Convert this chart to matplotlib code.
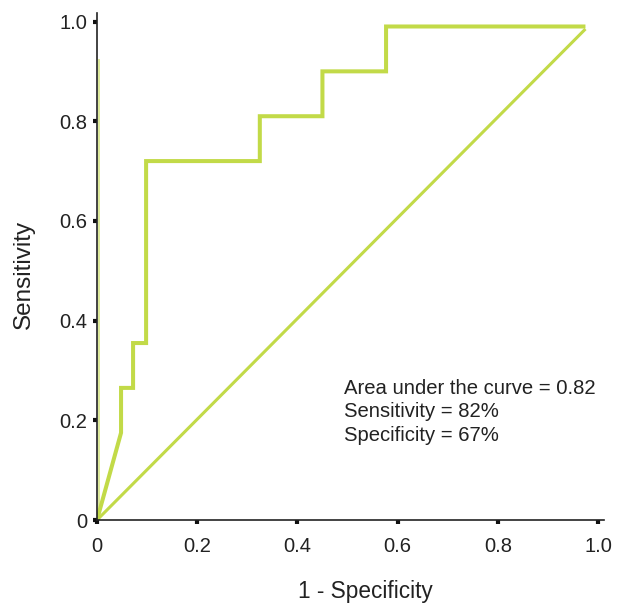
import matplotlib
matplotlib.use("Agg")
import matplotlib.pyplot as plt

plt.rcParams['font.family'] = ['Liberation Sans', 'DejaVu Sans']

# ROC curve (1 - specificity, sensitivity)
roc_fpr = [0.0, 0.048, 0.048, 0.072, 0.072, 0.098, 0.098, 0.325, 0.325, 0.45, 0.45, 0.577, 0.577, 0.975]
roc_tpr = [0.0, 0.175, 0.265, 0.265, 0.355, 0.355, 0.72, 0.72, 0.81, 0.81, 0.90, 0.90, 0.99, 0.99]
# reference (chance) line
ref_x = [0.0, 0.975]
ref_y = [0.0, 0.985]
# thin line along the y axis
edge_x = [0.003, 0.003]
edge_y = [0.0, 0.925]

xticks = [0, 0.2, 0.4, 0.6, 0.8, 1.0]
xticklabels = ['0', '0.2', '0.4', '0.6', '0.8', '1.0']
yticks = [0, 0.2, 0.4, 0.6, 0.8, 1.0]
yticklabels = ['0', '0.2', '0.4', '0.6', '0.8', '1.0']

annot = "Area under the curve = 0.82\nSensitivity = 82%\nSpecificity = 67%"

color = '#c2da48'

fig = plt.figure(figsize=(6.21, 6.06), dpi=100)
ax = fig.add_axes([0.1562, 0.1419, 0.8164, 0.8366])

ax.plot(edge_x, edge_y, color='#dde99a', lw=1.4, solid_capstyle='butt', clip_on=False)
ax.plot(ref_x, ref_y, color=color, lw=2.2, solid_capstyle='butt')
ax.plot(roc_fpr, roc_tpr, color=color, lw=2.9, solid_joinstyle='miter', solid_capstyle='butt')

ax.set_xlim(0, 1.012)
ax.set_ylim(0, 1.017)
ax.set_xticks(xticks)
ax.set_xticklabels(xticklabels)
ax.set_yticks(yticks)
ax.set_yticklabels(yticklabels)

for s in ['top', 'right']:
    ax.spines[s].set_visible(False)
for s in ['left', 'bottom']:
    ax.spines[s].set_linewidth(1.2)
    ax.spines[s].set_color('#222222')

ax.tick_params(direction='out', length=3.2, width=3.0, color='#111111',
               labelsize=14.5, labelcolor='#222222', pad=4)
ax.tick_params(axis='x', pad=9)

ax.set_xlabel('1 - Specificity', fontsize=16.3, color='#222222', labelpad=17)
ax.xaxis.label.set_x(0.529)
ax.set_ylabel('Sensitivity', fontsize=17.5, color='#222222', labelpad=17)
ax.yaxis.label.set_y(0.485)

ax.text(0.493, 0.283, annot, fontsize=14.6, color='#222222', va='top', ha='left',
        linespacing=1.3, transform=ax.transData)

fig.savefig('out.png', dpi=100)
